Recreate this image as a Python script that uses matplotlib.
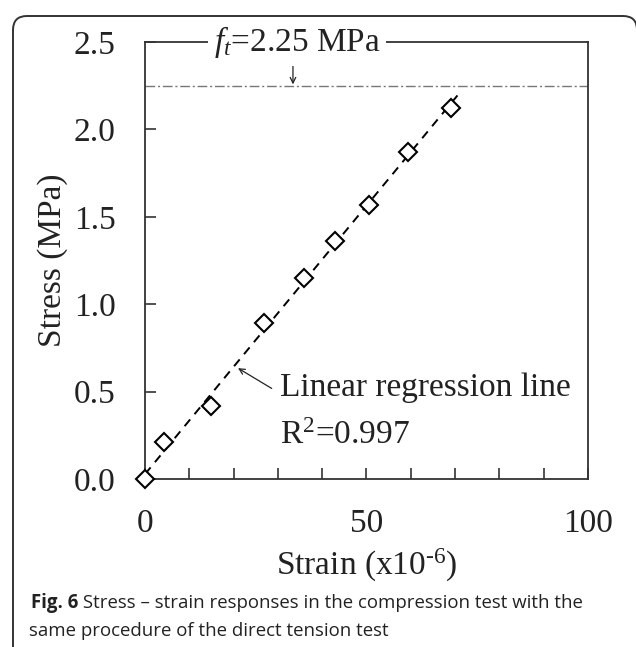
import numpy as np
import matplotlib.pyplot as plt
from matplotlib.patches import FancyBboxPatch
from matplotlib.transforms import IdentityTransform
from matplotlib.ticker import MultipleLocator

# values
strain = [0, 4.4, 14.9, 26.9, 36.0, 43.0, 50.5, 59.4, 69.0]
stress = [0, 0.21, 0.42, 0.89, 1.15, 1.36, 1.57, 1.87, 2.12]
ft = 2.25
r2 = 0.997
caption_bold = "Fig. 6"
caption_1 = " Stress \u2013 strain responses in the compression test with the"
caption_2 = "same procedure of the direct tension test"

plt.rcParams['font.family'] = 'Liberation Serif'
plt.rcParams['mathtext.fontset'] = 'custom'
plt.rcParams['mathtext.rm'] = 'Liberation Serif'
plt.rcParams['mathtext.it'] = 'Liberation Serif:italic'

INK = '#222222'

fig = plt.figure(figsize=(6.36, 6.47), dpi=100)
ax = fig.add_axes([0.228, 0.2597, 0.6965, 0.6753])

# regression line
fit = np.polyfit(strain, stress, 1)
xs = np.array([0, 71.0])
ax.plot(xs, np.polyval(fit, xs), color='black', lw=1.4, dashes=(4.5, 3.5), zorder=2)

ax.plot(strain, stress, 'D', ms=9, mfc='white', mec='black', mew=1.5,
        zorder=3, clip_on=False)

ax.axhline(ft, color='#777777', lw=1.0, ls=(0, (7, 2, 1.5, 2)), zorder=1)

ax.set_xlim(0, 100)
ax.set_ylim(0, 2.5)
ax.xaxis.set_major_locator(MultipleLocator(50))
ax.xaxis.set_minor_locator(MultipleLocator(10))
ax.yaxis.set_major_locator(MultipleLocator(0.5))
ax.yaxis.set_major_formatter(plt.FormatStrFormatter('%.1f'))
ax.tick_params(which='both', direction='in', length=8, width=1.2, color='#333333',
               top=False, right=False, labelsize=24, labelcolor=INK, pad=21)
for s in ax.spines.values():
    s.set_color('#333333')
    s.set_linewidth(1.3)

ax.set_xlabel(r'Strain (x10$^{\text{-6}}$)', fontsize=24, color=INK)
ax.set_ylabel('Stress (MPa)', fontsize=24, color=INK)
ax.xaxis.set_label_coords(0.5, -0.197)
ax.xaxis.label.set_va('center')
ax.yaxis.set_label_coords(-0.208, 0.5)
ax.yaxis.label.set_va('center')

# f_t label sitting on the top frame
ax.text(34.3, 2.5, '$f_t$=2.25 MPa', fontsize=24, color=INK, ha='center', va='center',
        bbox=dict(fc='white', ec='none', pad=4), clip_on=False, zorder=5)
ax.annotate('', xy=(33.4, ft), xytext=(33.4, 2.38),
            arrowprops=dict(arrowstyle='->', lw=0.9, color=INK, shrinkA=0, shrinkB=1))

ax.annotate('', xy=(21.0, 0.634), xytext=(28.6, 0.518),
            arrowprops=dict(arrowstyle='->', lw=0.9, color=INK, shrinkA=0, shrinkB=0))
ax.text(30.5, 0.52, 'Linear regression line', fontsize=24, color=INK, va='center')
ax.text(30.5, 0.245, 'R$^2$=%.3f' % r2, fontsize=24, color=INK, va='center')

# rounded frame round figure + caption (right side runs off the picture)
frame = FancyBboxPatch((13, -40), 624, 631 + 40, boxstyle='round,pad=0,rounding_size=14',
                       transform=IdentityTransform(), fc='none', ec='#333333', lw=1.4)
fig.add_artist(frame)

tb = fig.text(31 / 636, 1 - 603 / 647, caption_bold, fontsize=13.4, weight='bold',
              family='Open Sans', color=INK, va='center')
ax.annotate(caption_1, xy=(1, 0.5), xycoords=tb, fontsize=13.4, family='Open Sans',
            color=INK, va='center', ha='left', annotation_clip=False)
fig.text(29 / 636, 1 - 631 / 647, caption_2, fontsize=13.4, family='Open Sans',
         color=INK, va='center')

fig.savefig('out.png', dpi=100)
